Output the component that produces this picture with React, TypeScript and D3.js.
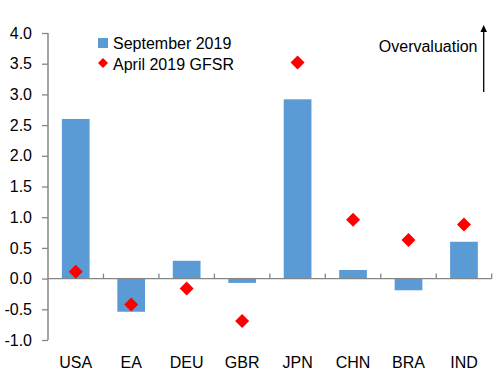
import React from 'react'
import * as d3 from 'd3'

const categories = ['USA', 'EA', 'DEU', 'GBR', 'JPN', 'CHN', 'BRA', 'IND']
const september2019 = [2.6, -0.54, 0.29, -0.07, 2.92, 0.14, -0.19, 0.6]
const april2019 = [0.11, -0.42, -0.16, -0.69, 3.52, 0.96, 0.63, 0.88]
const yTicks = [-1, -0.5, 0, 0.5, 1, 1.5, 2, 2.5, 3, 3.5, 4]
const seriesNames = ['September 2019', 'April 2019 GFSR']

const width = 504
const height = 389
const font = 'Liberation Sans, Arial, sans-serif'
const barColor = '#5B9BD5'
const dotColor = '#FF0000'
const axisColor = '#868686'

export default function App() {
  const stageRef = React.useRef<SVGSVGElement>(null)

  React.useEffect(() => {
    const svg = d3.select(stageRef.current)
    svg.selectAll('*').remove()

    const left = 48
    const right = 491.7
    const y = d3.scaleLinear().domain([-1, 4]).range([340, 33])
    const x = d3.scaleBand<string>().domain(categories).range([left, right]).paddingInner(0.5).paddingOuter(0.25)

    // bars
    svg.append('g')
      .selectAll('rect')
      .data(september2019)
      .enter()
      .append('rect')
      .attr('fill', barColor)
      .attr('x', (d, i) => x(categories[i])!)
      .attr('width', x.bandwidth())
      .attr('y', d => y(Math.max(0, d)))
      .attr('height', d => Math.abs(y(d) - y(0)))

    // y axis (hyphen minus like the original)
    const yAxis = svg.append('g')
      .attr('transform', `translate(${left},0)`)
      .call(d3.axisLeft(y).tickValues(yTicks).tickSize(6).tickPadding(10).tickFormat(d => (+d).toFixed(1)))
    yAxis.select('.domain').attr('stroke', axisColor).attr('stroke-width', 1.5).attr('d', `M0,${y(4)}V${y(-1)}`)
    yAxis.selectAll('.tick line').attr('stroke', axisColor).attr('stroke-width', 1.3)
    yAxis.selectAll('.tick text')
      .attr('fill', '#000')
      .style('font-family', font)
      .style('font-size', '16px')

    // x axis at zero
    const step = x.step()
    const xg = svg.append('g')
    xg.append('line')
      .attr('x1', left).attr('x2', right)
      .attr('y1', y(0)).attr('y2', y(0))
      .attr('stroke', axisColor).attr('stroke-width', 1.3)
    xg.selectAll('line.tk')
      .data(categories)
      .enter()
      .append('line')
      .attr('class', 'tk')
      .attr('x1', (d, i) => left + step * (i + 1))
      .attr('x2', (d, i) => left + step * (i + 1))
      .attr('y1', y(0) - 5)
      .attr('y2', y(0))
      .attr('stroke', axisColor).attr('stroke-width', 1.3)
    xg.selectAll('text')
      .data(categories)
      .enter()
      .append('text')
      .attr('x', d => x(d)! + x.bandwidth() / 2)
      .attr('y', 368)
      .attr('text-anchor', 'middle')
      .style('font-family', font)
      .style('font-size', '16px')
      .text(d => d)

    // diamonds
    const dsize = 7
    svg.append('g')
      .selectAll('path')
      .data(april2019)
      .enter()
      .append('path')
      .attr('fill', dotColor)
      .attr('transform', (d, i) => `translate(${x(categories[i])! + x.bandwidth() / 2},${y(d)})`)
      .attr('d', `M0,${-dsize}L${dsize},0L0,${dsize}L${-dsize},0Z`)

    // legend
    const legend = svg.append('g').style('font-family', font).style('font-size', '16px')
    legend.append('rect').attr('x', 98).attr('y', 38).attr('width', 10).attr('height', 10).attr('fill', barColor)
    legend.append('text').attr('x', 113).attr('y', 48.5).text(seriesNames[0])
    legend.append('path')
      .attr('fill', dotColor)
      .attr('transform', 'translate(103,63)')
      .attr('d', 'M0,-5L5,0L0,5L-5,0Z')
    legend.append('text').attr('x', 113).attr('y', 69.5).text(seriesNames[1])

    // overvaluation arrow
    svg.append('text')
      .attr('x', 477.5)
      .attr('y', 51.5)
      .attr('text-anchor', 'end')
      .style('font-family', font)
      .style('font-size', '16px')
      .text('Overvaluation')
    svg.append('line')
      .attr('x1', 483.7).attr('x2', 483.7)
      .attr('y1', 92).attr('y2', 30)
      .attr('stroke', '#000').attr('stroke-width', 1.3)
    svg.append('path')
      .attr('d', 'M483.7,25L487,32L480.4,32Z')
      .attr('fill', '#000')
  }, [])

  return (
    <svg
      ref={stageRef}
      width={width}
      height={height}
      style={{ position: 'absolute', left: 0, top: 0, background: '#fff' }}
    />
  )
}
